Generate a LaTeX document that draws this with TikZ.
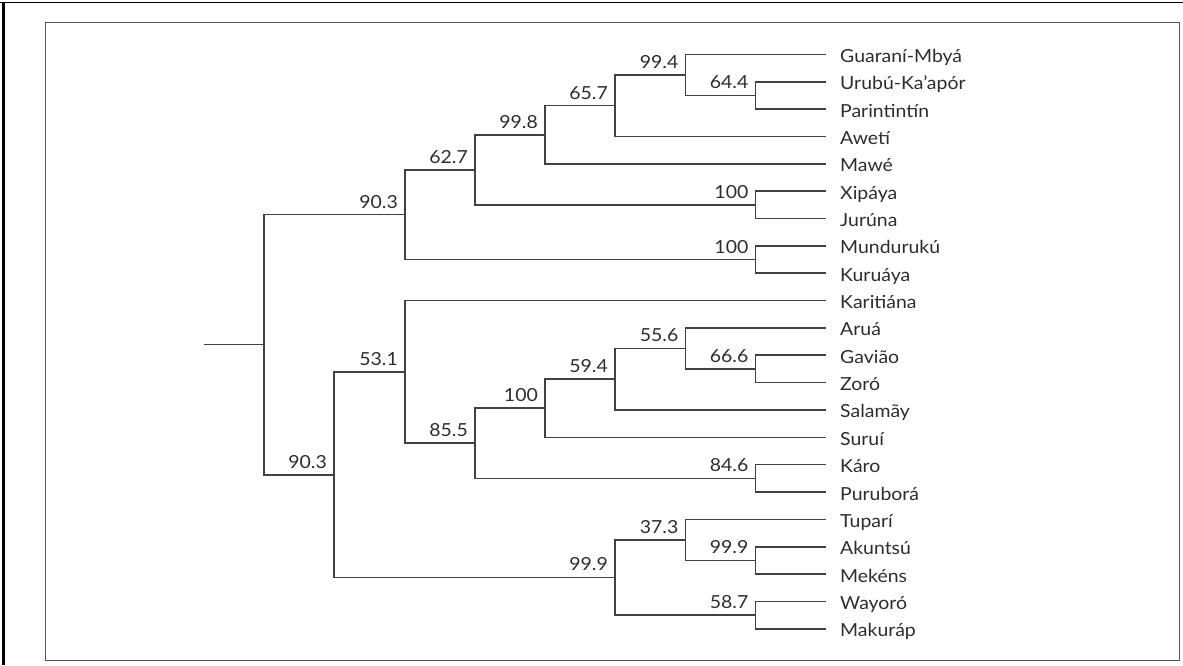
\documentclass[tikz,border=0pt]{standalone}
\usepackage{fontspec}
\setmainfont{Lato}[FakeStretch=1.08]
\definecolor{linec}{RGB}{65,65,65}
\definecolor{textc}{RGB}{45,45,45}
\definecolor{framec}{RGB}{85,85,85}
\tikzset{
  br/.style={draw=linec, line width=1.6pt, line cap=rect},
  leaf/.style={anchor=base west, inner sep=0pt, text=textc, font=\fontsize{18}{20}\selectfont},
  supp/.style={anchor=base east, inner sep=0pt, text=textc, font=\fontsize{18}{20}\selectfont},
}
\begin{document}
\begin{tikzpicture}[x=1pt,y=-1pt]
\useasboundingbox (0,0) rectangle (1183,665);
% frames
\draw[black, line width=1.6pt] (0,2.5) -- (1183,2.5);
\draw[black, line width=2.2pt] (3.5,1.7) -- (3.5,665);
\draw[framec, line width=1.6pt] (45.5,22.5) rectangle (1179.5,660.5);
% leaf end points
\foreach \i/\y in {0/54.4,1/81.75,2/109.1,3/136.45,4/163.8,5/191.15,6/218.5,7/245.85,8/273.2,9/300.55,10/327.9,11/355.25,12/382.6,13/409.95,14/437.3,15/464.65,16/492,17/519.35,18/546.7,19/574.05,20/601.4,21/628.75}
  \coordinate (l\i) at (825,\y);
% internal nodes
\coordinate (s) at (205,344.67);
\coordinate (R) at (264,344.67);
\coordinate (A) at (405,214.65);
\coordinate (B) at (475,169.78);
\coordinate (C) at (545,134.74);
\coordinate (D) at (615,105.68);
\coordinate (E) at (685.5,74.91);
\coordinate (F) at (755.5,95.425);
\coordinate (XJ) at (755.5,204.83);
\coordinate (MK) at (755.5,259.53);
\coordinate (G) at (334,474.7);
\coordinate (H) at (405,371.92);
\coordinate (J) at (475,443.28);
\coordinate (K) at (545,408.24);
\coordinate (L) at (615,379.18);
\coordinate (M) at (685.5,348.41);
\coordinate (N) at (755.5,368.93);
\coordinate (KP) at (755.5,478.33);
\coordinate (I) at (615,577.47);
\coordinate (O) at (685.5,539.86);
\coordinate (Q) at (755.5,560.38);
\coordinate (P) at (755.5,615.08);
% branches
\draw[br] (s) -- (R);
\draw[br] (R) |- (A); \draw[br] (R) |- (G);
\draw[br] (A) |- (B); \draw[br] (A) |- (MK);
\draw[br] (B) |- (C); \draw[br] (B) |- (XJ);
\draw[br] (C) |- (D); \draw[br] (C) |- (l4);
\draw[br] (D) |- (E); \draw[br] (D) |- (l3);
\draw[br] (E) |- (l0); \draw[br] (E) |- (F);
\draw[br] (F) |- (l1); \draw[br] (F) |- (l2);
\draw[br] (XJ) |- (l5); \draw[br] (XJ) |- (l6);
\draw[br] (MK) |- (l7); \draw[br] (MK) |- (l8);
\draw[br] (G) |- (H); \draw[br] (G) |- (I);
\draw[br] (H) |- (l9); \draw[br] (H) |- (J);
\draw[br] (J) |- (K); \draw[br] (J) |- (KP);
\draw[br] (K) |- (L); \draw[br] (K) |- (l14);
\draw[br] (L) |- (M); \draw[br] (L) |- (l13);
\draw[br] (M) |- (l10); \draw[br] (M) |- (N);
\draw[br] (N) |- (l11); \draw[br] (N) |- (l12);
\draw[br] (KP) |- (l15); \draw[br] (KP) |- (l16);
\draw[br] (I) |- (O); \draw[br] (I) |- (P);
\draw[br] (O) |- (l17); \draw[br] (O) |- (Q);
\draw[br] (Q) |- (l18); \draw[br] (Q) |- (l19);
\draw[br] (P) |- (l20); \draw[br] (P) |- (l21);
% support values
\foreach \c/\t in {A/90.3,B/62.7,C/99.8,D/65.7,E/99.4,F/64.4,XJ/100,MK/100,G/90.3,H/53.1,J/85.5,K/100,L/59.4,M/55.6,N/66.6,KP/84.6,I/99.9,O/37.3,Q/99.9,P/58.7}
  \node[supp] (v\c) at ([xshift=-7pt,yshift=6.5pt]\c) {\t};
% leaf labels
\foreach \i/\t in {0/Guaraní-Mbyá,1/Urubú-Ka’apór,2/Parintintín,3/Awetí,4/Mawé,5/Xipáya,6/Jurúna,7/Mundurukú,8/Kuruáya,9/Karitiána,10/Aruá,11/Gavião,12/Zoró,13/Salamãy,14/Suruí,15/Káro,16/Puruborá,17/Tuparí,18/Akuntsú,19/Mekéns,20/Wayoró,21/Makuráp}
  \node[leaf] (t\i) at ([xshift=15pt,yshift=-8pt]l\i) {\t};
\end{tikzpicture}
\end{document}
